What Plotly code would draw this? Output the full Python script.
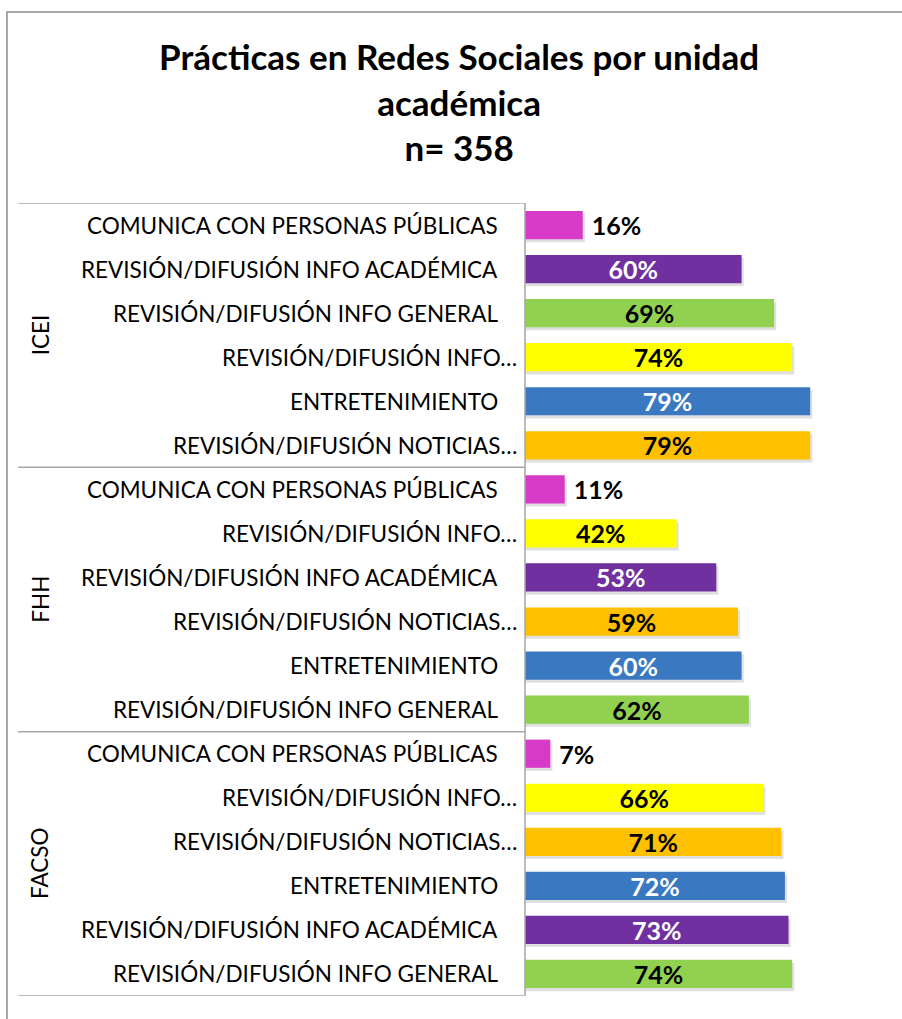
import plotly.graph_objects as go

# ---- data (top-to-bottom order inside each unit) ----
units = ["ICEI", "FHH", "FACSO"]

icei_labels = ["COMUNICA CON PERSONAS PÚBLICAS", "REVISIÓN/DIFUSIÓN INFO ACADÉMICA",
               "REVISIÓN/DIFUSIÓN INFO GENERAL", "REVISIÓN/DIFUSIÓN INFO…",
               "ENTRETENIMIENTO", "REVISIÓN/DIFUSIÓN NOTICIAS…"]
icei_values = [16, 60, 69, 74, 79, 79]

fhh_labels = ["COMUNICA CON PERSONAS PÚBLICAS", "REVISIÓN/DIFUSIÓN INFO…",
              "REVISIÓN/DIFUSIÓN INFO ACADÉMICA", "REVISIÓN/DIFUSIÓN NOTICIAS…",
              "ENTRETENIMIENTO", "REVISIÓN/DIFUSIÓN INFO GENERAL"]
fhh_values = [11, 42, 53, 59, 60, 62]

facso_labels = ["COMUNICA CON PERSONAS PÚBLICAS", "REVISIÓN/DIFUSIÓN INFO…",
                "REVISIÓN/DIFUSIÓN NOTICIAS…", "ENTRETENIMIENTO",
                "REVISIÓN/DIFUSIÓN INFO ACADÉMICA", "REVISIÓN/DIFUSIÓN INFO GENERAL"]
facso_values = [7, 66, 71, 72, 73, 74]

category_colors = {
    "COMUNICA CON PERSONAS PÚBLICAS": "#D63AC6",
    "REVISIÓN/DIFUSIÓN INFO ACADÉMICA": "#7030A0",
    "REVISIÓN/DIFUSIÓN INFO GENERAL": "#92D050",
    "REVISIÓN/DIFUSIÓN INFO…": "#FFFF00",
    "ENTRETENIMIENTO": "#3A78C2",
    "REVISIÓN/DIFUSIÓN NOTICIAS…": "#FFC000",
}
white_text = {"REVISIÓN/DIFUSIÓN INFO ACADÉMICA", "ENTRETENIMIENTO"}

FONT = "Lato"

groups = [(units[0], icei_labels, icei_values),
          (units[1], fhh_labels, fhh_values),
          (units[2], facso_labels, facso_values)]

labels, values = [], []
for _, labs, vals in groups:
    labels += labs
    values += vals
pos = list(range(len(labels)))

colors = [category_colors[l] for l in labels]
txtcolors = ["white" if l in white_text else "black" for l in labels]
outside = [v < 20 for v in values]
txtpos = ["outside" if o else "inside" for o in outside]
texts = [("\u00a0" if o else "") + f"{v}%" for v, o in zip(values, outside)]

fig = go.Figure()
# soft shadow under bars
fig.add_trace(go.Bar(
    x=[v + 0.6 for v in values], y=pos, orientation="h", width=0.64, offset=-0.25,
    marker=dict(color="rgba(0,0,0,0.12)", line=dict(width=0)),
    hoverinfo="skip", showlegend=False,
))
fig.add_trace(go.Bar(
    x=values, y=pos, orientation="h", width=0.64, offset=-0.32,
    marker=dict(color=colors, line=dict(width=0)),
    text=texts, textposition=txtpos, constraintext="none",
    insidetextanchor="middle",
    textfont=dict(family=FONT, size=25, color=txtcolors, weight="bold"),
    cliponaxis=False, showlegend=False, hoverinfo="skip",
))

annotations = []
for p, l in zip(pos, labels):
    annotations.append(dict(
        x=0, xref="paper", y=p, yref="y", text=l, showarrow=False,
        xanchor="right", xshift=-6 if l.endswith("…") else -25,
        font=dict(family=FONT, size=22.5, color="black")))

shapes = []
n = 0
bounds = [-0.5]
for name, labs, vals in groups:
    center = n + (len(labs) - 1) / 2
    annotations.append(dict(
        x=-1.343, xref="paper", xanchor="center", y=center, yref="y", yanchor="middle",
        text=name, textangle=-90,
        showarrow=False, font=dict(family=FONT, size=22.5, color="black")))
    n += len(labs)
    bounds.append(n - 0.5)
for b in bounds:
    shapes.append(dict(type="line", xref="paper", yref="y", x0=-1.404, x1=0,
                       y0=b, y1=b, line=dict(color="#A6A6A6", width=1.5)))
# category axis line
shapes.append(dict(type="line", xref="paper", yref="paper", x0=0, x1=0, y0=0, y1=1,
                   line=dict(color="#A6A6A6", width=1.5)))
# chart frame
shapes.append(dict(type="rect", xref="paper", yref="paper", x0=-1.435, x1=1.5,
                   y0=-0.5, y1=1.2409, line=dict(color="#8C8C8C", width=1.5)))

fig.update_layout(
    width=902, height=1019,
    margin=dict(l=525, r=16, t=203, b=23),
    barmode="overlay",
    paper_bgcolor="white", plot_bgcolor="white",
    title=dict(text="Prácticas en Redes Sociales por unidad<br>académica<br>n= 358",
               x=0.509, xanchor="center", y=0.931, yanchor="top",
               font=dict(family=FONT, size=35, color="black", weight="bold")),
    xaxis=dict(range=[0, 100], visible=False),
    yaxis=dict(range=[len(labels) - 0.5, -0.5], showticklabels=False,
               showgrid=False, zeroline=False, ticks=""),
    annotations=annotations, shapes=shapes,
    font=dict(family=FONT),
    hovermode=False,
)

fig.write_html("out.html", config={"displayModeBar": False},
               post_script="document.body.style.margin='0';")
